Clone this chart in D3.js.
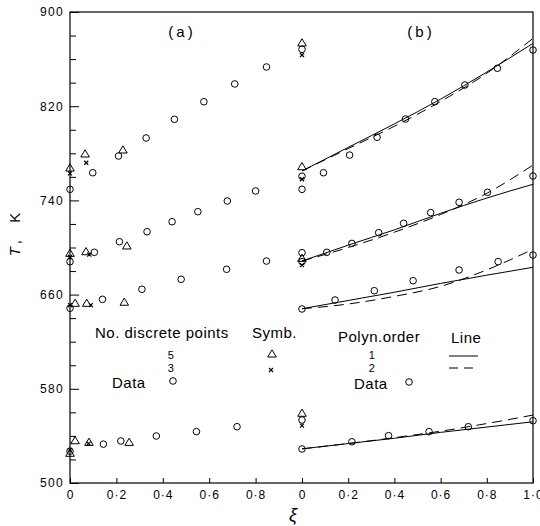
<!DOCTYPE html>
<html lang="en">
	<head>
		<meta charset="utf-8">
		<title>T vs xi</title>
		<script type="text/javascript" src="https://cdn.jsdelivr.net/npm/d3@7/dist/d3.min.js"></script>
		<style type="text/css">
			body { margin: 0; background: #fff; }
			text { font-family: "Liberation Sans", Arial, sans-serif; fill: #000; }
		</style>
	</head>
	<body>
		<script type="text/javascript">

			// ---- panel (a): data circles [xi, T]
			var aData1 = [[0,749.4],[0.098,763.5],[0.209,777.7],[0.328,793],[0.45,808.9],[0.577,823.8],[0.71,838.9],[0.847,853.3],[1,868.3]]
			var aData2 = [[0,687.9],[0.105,695.9],[0.213,704.9],[0.332,713.4],[0.44,721.9],[0.551,730.4],[0.678,739.5],[0.80,748],[1,760.5]]
			var aData3 = [[0,648.4],[0.14,656],[0.31,664.5],[0.479,673],[0.675,681.5],[0.847,688.5],[1,695.6]]
			var aData4 = [[0,527],[0.144,533],[0.219,535.7],[0.372,539.9],[0.545,543.6],[0.72,547.8],[1,553.5]]

			// 5 discrete points (triangles)
			var tri1 = [[0,767.5],[0.065,779.4],[0.228,782.8],[1,873.7]]
			var tri2 = [[0,695],[0.069,696.4],[0.245,701.3],[1,768.6]]
			var tri3 = [[0.022,652.6],[0.072,652.6],[0.234,653.5],[1,690.8]]
			var tri4 = [[0,525.2],[0.022,535.9],[0.082,534.5],[0.255,534.5],[1,559.2]]

			// 3 discrete points (crosses)
			var crs1 = [[0,763],[0.07,772],[1,863.5]]
			var crs2 = [[0,692],[0.083,694],[1,758]]
			var crs3 = [[0,651],[0.09,651],[1,685]]
			var crs4 = [[0,528],[0.08,533.5],[1,548.7]]

			// ---- panel (b): data circles
			var bData1 = [[0,749.4],[0.093,763.5],[0.206,778.5],[0.325,793.6],[0.448,809.1],[0.575,823.8],[0.705,838],[0.846,852.2],[1,867.7]]
			var bData2 = [[0,688],[0.107,695.9],[0.216,703.5],[0.332,712.6],[0.44,720.5],[0.557,729.6],[0.68,738.4],[0.803,746.9],[1,760.7]]
			var bData3 = [[0,647.8],[0.143,655.4],[0.313,663.3],[0.481,671.8],[0.68,680.9],[0.849,688],[1,693.6]]
			var bData4 = [[0,528.9],[0.216,535],[0.375,540.2],[0.55,543.6],[0.72,547.8],[1,552.9]]

			// polynomial lines, read at these xi
			var lineXi = [0, 0.2, 0.4, 0.6, 0.8, 1.0]
			var order1 = [
				[765, 785, 805, 826, 849, 873.4],
				[688.5, 702, 715, 729, 742, 753.7],
				[648, 655, 662, 669.5, 676.5, 683.2],
				[529, 533.5, 538, 543, 547.5, 552]
			]
			var order2 = [
				[765, 784, 803, 824, 848, 877.6],
				[688.5, 700, 713, 728, 746, 770],
				[648, 652, 658.5, 667, 681, 698.5],
				[529, 533.5, 538.5, 544, 550.5, 557.7]
			]

			var yMajor = [500, 580, 660, 740, 820, 900]
			var yMinor = [520, 540, 560, 600, 620, 640, 680, 700, 720, 760, 780, 800, 840, 860, 880]
			var aTicks = [0, 0.2, 0.4, 0.6, 0.8]
			var bTicks = [0, 0.2, 0.4, 0.6, 0.8, 1.0]

			var w = 540, h = 526

			var svg = d3.select("body").append("svg").attr("width", w).attr("height", h)

			var y = d3.scaleLinear().domain([500, 900]).range([483, 12])
			var xa = d3.scaleLinear().domain([0, 1]).range([70, 302])
			var xb = d3.scaleLinear().domain([0, 1]).range([302, 533])

			var fmt = function(d) {
				if (d == 0) return "0"
				return d3.format(".1f")(d).replace(".", "\u00b7")
			}

			// frame
			svg.append("rect")
				.attr("x", xa(0)).attr("y", y(900))
				.attr("width", xb(1) - xa(0)).attr("height", y(500) - y(900))
				.attr("fill", "none").attr("stroke", "#000").attr("stroke-width", 1.2)

			// y axis
			var yAx = svg.append("g").attr("transform", "translate(" + xa(0) + ",0)")
				.call(d3.axisLeft(y).tickValues(yMajor).tickSizeInner(-9).tickSizeOuter(0).tickPadding(6).tickFormat(d3.format("d")))
			yAx.select(".domain").remove()
			yAx.selectAll("text").attr("font-size", "12px").attr("letter-spacing", "1.3px")
				.attr("font-family", "Liberation Sans")
			var yMin = svg.append("g").attr("transform", "translate(" + xa(0) + ",0)")
				.call(d3.axisLeft(y).tickValues(yMinor).tickSizeInner(-6).tickSizeOuter(0).tickFormat(""))
			yMin.select(".domain").remove()

			// x axes
			var xaAx = svg.append("g").attr("transform", "translate(0," + y(500) + ")")
				.call(d3.axisBottom(xa).tickValues(aTicks).tickSizeInner(-5).tickSizeOuter(0).tickPadding(7).tickFormat(fmt))
			var xbAx = svg.append("g").attr("transform", "translate(0," + y(500) + ")")
				.call(d3.axisBottom(xb).tickValues(bTicks).tickSizeInner(-5).tickSizeOuter(0).tickPadding(7).tickFormat(fmt))
			svg.selectAll(".domain").remove()
			xaAx.selectAll("text").attr("font-size", "12px").attr("letter-spacing", "1px").attr("font-family", "Liberation Sans")
			xbAx.selectAll("text").attr("font-size", "12px").attr("letter-spacing", "1px").attr("font-family", "Liberation Sans")
			svg.selectAll(".tick line").attr("stroke", "#000")

			// axis titles
			svg.append("text")
				.attr("transform", "translate(20,233) rotate(-90)")
				.attr("text-anchor", "middle")
				.attr("font-size", "15px")
				.attr("letter-spacing", "3px")
				.attr("xml:space", "preserve")
				.html('<tspan font-style="italic">T</tspan>,  K')

			svg.append("text")
				.attr("x", 293).attr("y", 521)
				.attr("text-anchor", "middle")
				.attr("font-size", "18px")
				.attr("font-family", "DejaVu Serif")
				.attr("font-style", "italic")
				.text("\u03be")

			svg.append("text").attr("x", 182).attr("y", 37).attr("text-anchor", "middle")
				.attr("font-size", "15px").attr("letter-spacing", "3px").text("(a)")
			svg.append("text").attr("x", 421).attr("y", 37).attr("text-anchor", "middle")
				.attr("font-size", "15px").attr("letter-spacing", "3px").text("(b)")

			// polynomial lines in (b)
			var line = d3.line()
				.x(function(d, i) { return xb(lineXi[i]) })
				.y(function(d) { return y(d) })
				.curve(d3.curveMonotoneX)

			svg.selectAll(".ord1")
				.data(order1)
				.enter()
				.append("path")
				.attr("class", "ord1")
				.attr("d", line)
				.attr("fill", "none").attr("stroke", "#000").attr("stroke-width", 1)

			svg.selectAll(".ord2")
				.data(order2)
				.enter()
				.append("path")
				.attr("class", "ord2")
				.attr("d", line)
				.attr("fill", "none").attr("stroke", "#000").attr("stroke-width", 1)
				.attr("stroke-dasharray", "10,6")

			// markers
			var drawCircles = function(data, xs) {
				svg.append("g").selectAll("circle")
					.data(data)
					.enter()
					.append("circle")
					.attr("cx", function(d) { return xs(d[0]) })
					.attr("cy", function(d) { return y(d[1]) })
					.attr("r", 3.3)
					.attr("fill", "none").attr("stroke", "#000").attr("stroke-width", 1)
			}
			var triPath = function(cx, cy) {
				return "M" + cx + "," + (cy - 4.2) + "L" + (cx + 4.3) + "," + (cy + 3) + "L" + (cx - 4.3) + "," + (cy + 3) + "Z"
			}
			var crossPath = function(cx, cy) {
				return "M" + (cx - 2) + "," + (cy - 2) + "L" + (cx + 2) + "," + (cy + 2) +
					"M" + (cx + 2) + "," + (cy - 2) + "L" + (cx - 2) + "," + (cy + 2)
			}
			var drawTri = function(data) {
				svg.append("g").selectAll("path")
					.data(data)
					.enter()
					.append("path")
					.attr("d", function(d) { return triPath(xa(d[0]), y(d[1])) })
					.attr("fill", "none").attr("stroke", "#000").attr("stroke-width", 1)
			}
			var drawCross = function(data) {
				svg.append("g").selectAll("path")
					.data(data)
					.enter()
					.append("path")
					.attr("d", function(d) { return crossPath(xa(d[0]), y(d[1])) })
					.attr("fill", "none").attr("stroke", "#000").attr("stroke-width", 1.2)
			}

			;[aData1, aData2, aData3, aData4].forEach(function(d) { drawCircles(d, xa) })
			;[bData1, bData2, bData3, bData4].forEach(function(d) { drawCircles(d, xb) })
			;[tri1, tri2, tri3, tri4].forEach(drawTri)
			;[crs1, crs2, crs3, crs4].forEach(drawCross)

			// legend (a)
			var leg = svg.append("g").attr("font-size", "15px").attr("letter-spacing", "0.5px")
			leg.append("text").attr("x", 95).attr("y", 338).text("No. discrete points")
			leg.append("text").attr("x", 252).attr("y", 338).text("Symb.")
			leg.append("text").attr("x", 171).attr("y", 359).attr("text-anchor", "middle").attr("font-size", "11px").text("5")
			leg.append("text").attr("x", 171).attr("y", 372).attr("text-anchor", "middle").attr("font-size", "11px").text("3")
			leg.append("text").attr("x", 112).attr("y", 388).text("Data")
			leg.append("circle").attr("cx", 173).attr("cy", 381).attr("r", 3.3)
				.attr("fill", "none").attr("stroke", "#000")
			leg.append("path").attr("d", triPath(272, 354)).attr("fill", "none").attr("stroke", "#000")
			leg.append("path").attr("d", crossPath(271, 370)).attr("fill", "none").attr("stroke", "#000").attr("stroke-width", 1.2)

			// legend (b)
			leg.append("text").attr("x", 338).attr("y", 342).text("Polyn.order")
			leg.append("text").attr("x", 451).attr("y", 343).text("Line")
			leg.append("text").attr("x", 372).attr("y", 359).attr("text-anchor", "middle").attr("font-size", "11px").text("1")
			leg.append("text").attr("x", 372).attr("y", 372).attr("text-anchor", "middle").attr("font-size", "11px").text("2")
			leg.append("text").attr("x", 354).attr("y", 389).text("Data")
			leg.append("circle").attr("cx", 409).attr("cy", 382).attr("r", 3.3)
				.attr("fill", "none").attr("stroke", "#000")
			leg.append("line").attr("x1", 449).attr("x2", 478).attr("y1", 356).attr("y2", 356)
				.attr("stroke", "#000")
			leg.append("line").attr("x1", 449).attr("x2", 478).attr("y1", 368).attr("y2", 368)
				.attr("stroke", "#000").attr("stroke-dasharray", "9,6")

		</script>
	</body>
</html>
